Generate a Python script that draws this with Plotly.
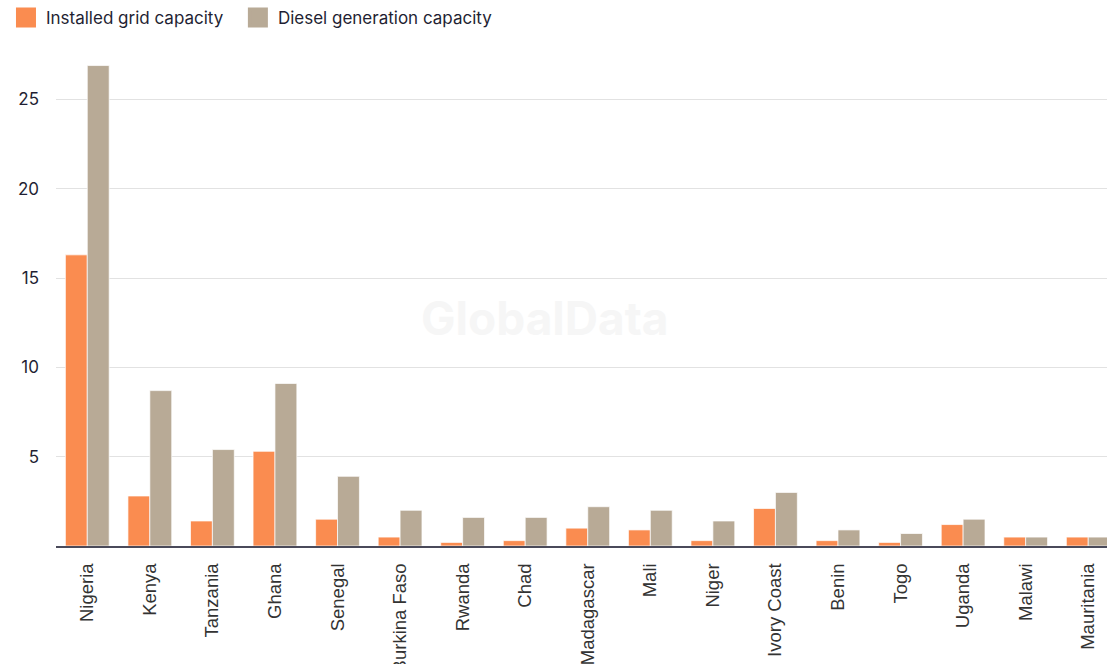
import plotly.graph_objects as go

countries = ["Nigeria", "Kenya", "Tanzania", "Ghana", "Senegal", "Burkina Faso", "Rwanda",
             "Chad", "Madagascar", "Mali", "Niger", "Ivory Coast", "Benin", "Togo",
             "Uganda", "Malawi", "Mauritania"]
grid_capacity = [16.3, 2.8, 1.4, 5.3, 1.5, 0.5, 0.2, 0.3, 1.0, 0.9, 0.3, 2.1, 0.3, 0.2, 1.2, 0.5, 0.5]
diesel_capacity = [26.9, 8.7, 5.4, 9.1, 3.9, 2.0, 1.6, 1.6, 2.2, 2.0, 1.4, 3.0, 0.9, 0.7, 1.5, 0.5, 0.5]
y_ticks = [5, 10, 15, 20, 25]
series_names = ["Installed grid capacity", "Diesel generation capacity"]

ORANGE = "#FA8C50"
BEIGE = "#B8AA96"

fig = go.Figure()
fig.add_trace(go.Bar(x=countries, y=grid_capacity, name=series_names[0],
                     marker=dict(color=ORANGE, line=dict(color="rgba(255,255,255,0.7)", width=1)),
                     showlegend=False))
fig.add_trace(go.Bar(x=countries, y=diesel_capacity, name=series_names[1],
                     marker=dict(color=BEIGE, line=dict(color="rgba(255,255,255,0.7)", width=1)),
                     showlegend=False))
# legend proxies (larger square swatches)
for nm, col in zip(series_names, [ORANGE, BEIGE]):
    fig.add_trace(go.Scatter(x=[None], y=[None], mode="markers", name=nm + "\u00a0\u00a0",
                             marker=dict(symbol="square", size=16, color=col,
                                         line=dict(color=col, width=4))))

fig.update_layout(
    width=1107, height=664,
    margin=dict(l=56, r=0, t=50, b=118, autoexpand=False),
    paper_bgcolor="white", plot_bgcolor="white",
    barmode="group", bargap=0.3, bargroupgap=0,
    legend=dict(orientation="h", xref="container", yref="container", x=0.0054, y=1.0,
                xanchor="left", yanchor="top",
                font=dict(family="Inter", size=17, color="#1f1f33")),
    annotations=[dict(text="GlobalData", xref="paper", yref="paper", x=0.465, y=0.46,
                      showarrow=False, font=dict(family="Inter", size=46, color="#f6f6f6", weight=700))],
)
fig.update_xaxes(
    range=[-0.5, 16.30], tickangle=-90, showline=True, linecolor="#4a4a5a", linewidth=2,
    showgrid=False, ticks="", ticklabelstandoff=8, automargin=False,
    tickfont=dict(family="Liberation Sans", size=18.5, color="#333333"),
)
fig.update_yaxes(
    range=[0, 27.77], tickvals=y_ticks, showgrid=True, gridcolor="#e2e2e2", gridwidth=1.2,
    zeroline=False, ticks="", ticklabelstandoff=16, automargin=False,
    tickfont=dict(family="Inter", size=17, color="#1f1f33"),
)
fig.write_html("out.html")
